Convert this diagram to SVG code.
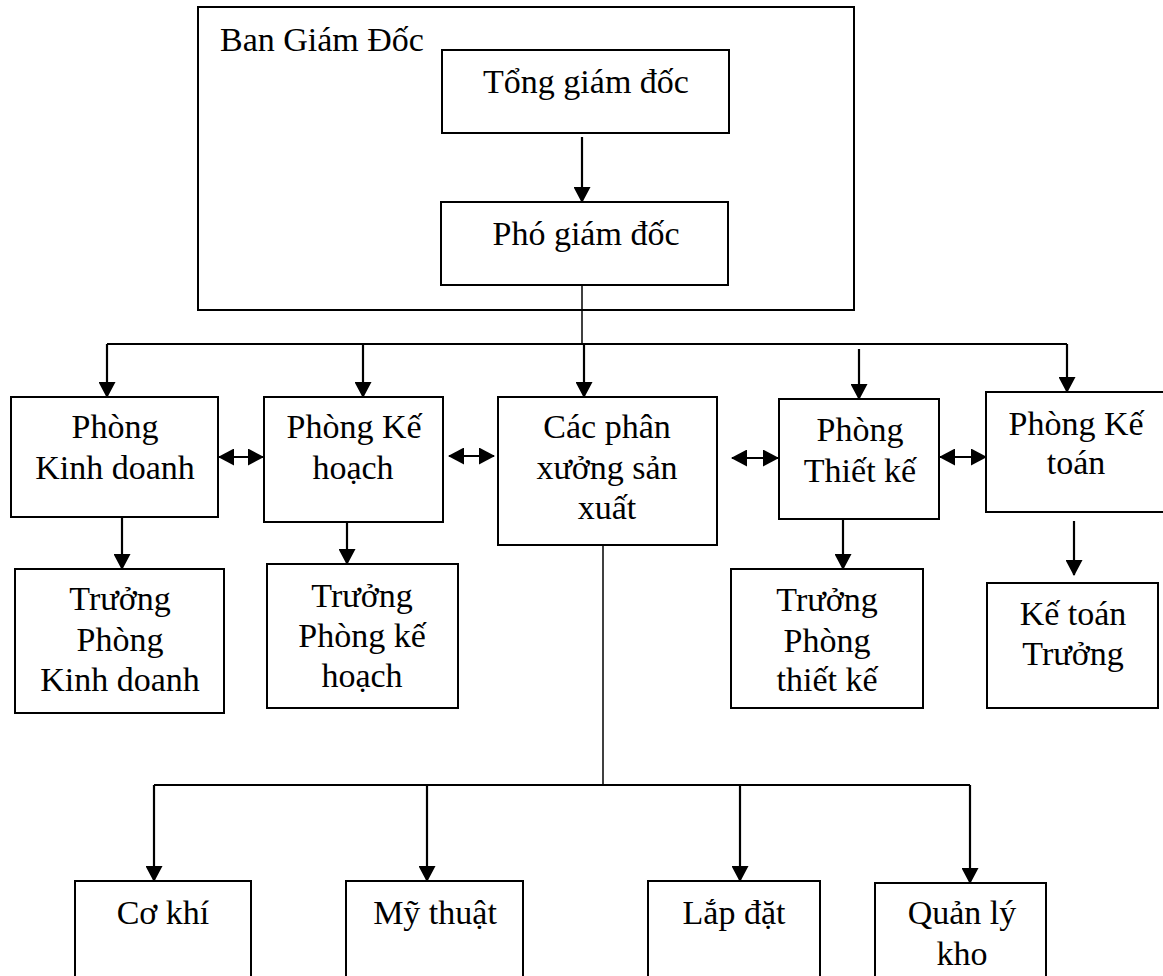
<svg xmlns="http://www.w3.org/2000/svg" width="1163" height="976" viewBox="0 0 1163 976">
  <style>
    .box { fill: #fff; stroke: #000; stroke-width: 2; }
    .lbl { font-family: "Liberation Serif", "Times New Roman", serif; font-size: 34px; fill: #000; text-anchor: middle; }
    .ln { fill: none; stroke: #000; stroke-width: 2.2; }
    .thin { fill: none; stroke: #000; stroke-width: 1.5; }
    .arr { marker-end: url(#head); }
    .bi { marker-start: url(#head); marker-end: url(#head); }
  </style>
  <defs>
    <marker id="head" markerUnits="userSpaceOnUse" markerWidth="16" markerHeight="17" refX="15" refY="8.5" orient="auto-start-reverse">
      <path d="M0,0 L16,8.5 L0,17 Z" fill="#000"/>
    </marker>
  </defs>

  <rect width="1163" height="976" fill="#fff"/>

  <!-- board of directors container -->
  <g id="ban-giam-doc">
    <rect class="box" x="198" y="7" width="656" height="303"/>
    <text class="lbl" x="220" y="51" style="text-anchor:start">Ban Giám Đốc</text>
  </g>
  <g id="tong-giam-doc">
    <rect class="box" x="442" y="50" width="287" height="83"/>
    <text class="lbl" x="586" y="93">Tổng giám đốc</text>
  </g>
  <g id="pho-giam-doc">
    <rect class="box" x="441" y="202" width="287" height="83"/>
    <text class="lbl" x="586" y="245">Phó giám đốc</text>
  </g>

  <!-- departments -->
  <g id="phong-kinh-doanh">
    <rect class="box" x="11" y="397" width="207" height="120"/>
    <text class="lbl" x="115" y="438">Phòng</text>
    <text class="lbl" x="115" y="479">Kinh doanh</text>
  </g>
  <g id="phong-ke-hoach">
    <rect class="box" x="264" y="397" width="179" height="125"/>
    <text class="lbl" x="354" y="438">Phòng Kế</text>
    <text class="lbl" x="353" y="479">hoạch</text>
  </g>
  <g id="phan-xuong">
    <rect class="box" x="498" y="397" width="219" height="148"/>
    <text class="lbl" x="607" y="438">Các phân</text>
    <text class="lbl" x="607" y="479">xưởng sản</text>
    <text class="lbl" x="607" y="519">xuất</text>
  </g>
  <g id="phong-thiet-ke">
    <rect class="box" x="779" y="399" width="160" height="120"/>
    <text class="lbl" x="860" y="441">Phòng</text>
    <text class="lbl" x="860" y="482">Thiết kế</text>
  </g>
  <g id="phong-ke-toan">
    <rect class="box" x="986" y="392" width="190" height="120"/>
    <text class="lbl" x="1076" y="435">Phòng Kế</text>
    <text class="lbl" x="1076" y="474">toán</text>
  </g>

  <!-- department heads -->
  <g id="truong-phong-kinh-doanh">
    <rect class="box" x="15" y="569" width="209" height="144"/>
    <text class="lbl" x="120" y="610">Trưởng</text>
    <text class="lbl" x="120" y="651">Phòng</text>
    <text class="lbl" x="120" y="691">Kinh doanh</text>
  </g>
  <g id="truong-phong-ke-hoach">
    <rect class="box" x="267" y="564" width="191" height="144"/>
    <text class="lbl" x="362" y="607">Trưởng</text>
    <text class="lbl" x="362" y="647">Phòng kế</text>
    <text class="lbl" x="362" y="687">hoạch</text>
  </g>
  <g id="truong-phong-thiet-ke">
    <rect class="box" x="731" y="569" width="192" height="139"/>
    <text class="lbl" x="827" y="611">Trưởng</text>
    <text class="lbl" x="827" y="652">Phòng</text>
    <text class="lbl" x="827" y="691">thiết kế</text>
  </g>
  <g id="ke-toan-truong">
    <rect class="box" x="987" y="583" width="171" height="125"/>
    <text class="lbl" x="1073" y="625">Kế toán</text>
    <text class="lbl" x="1073" y="665">Trưởng</text>
  </g>

  <!-- workshops -->
  <g id="co-khi">
    <rect class="box" x="75" y="881" width="176" height="120"/>
    <text class="lbl" x="163" y="924">Cơ khí</text>
  </g>
  <g id="my-thuat">
    <rect class="box" x="346" y="881" width="177" height="120"/>
    <text class="lbl" x="435" y="924">Mỹ thuật</text>
  </g>
  <g id="lap-dat">
    <rect class="box" x="648" y="881" width="172" height="120"/>
    <text class="lbl" x="734" y="924">Lắp đặt</text>
  </g>
  <g id="quan-ly-kho">
    <rect class="box" x="875" y="883" width="171" height="120"/>
    <text class="lbl" x="962" y="924">Quản lý</text>
    <text class="lbl" x="962" y="965">kho</text>
  </g>

  <!-- connectors -->
  <g id="connectors">
    <line class="ln arr" x1="582" y1="137" x2="582" y2="202"/>
    <line class="thin" x1="582" y1="285" x2="582" y2="344"/>
    <line class="ln" x1="107" y1="344" x2="1067" y2="344"/>
    <line class="ln arr" x1="107" y1="344" x2="107" y2="397"/>
    <line class="ln arr" x1="363" y1="344" x2="363" y2="397"/>
    <line class="ln arr" x1="584" y1="344" x2="584" y2="397"/>
    <line class="ln arr" x1="859" y1="349" x2="859" y2="399"/>
    <line class="ln arr" x1="1067" y1="344" x2="1067" y2="392"/>

    <line class="ln bi" x1="219" y1="457" x2="263" y2="457"/>
    <line class="ln bi" x1="449" y1="456" x2="494" y2="456"/>
    <line class="ln bi" x1="732" y1="458" x2="778" y2="458"/>
    <line class="ln bi" x1="940" y1="457" x2="986" y2="457"/>

    <line class="ln arr" x1="122" y1="517" x2="122" y2="569"/>
    <line class="ln arr" x1="347" y1="522" x2="347" y2="564"/>
    <line class="ln arr" x1="843" y1="519" x2="843" y2="569"/>
    <line class="ln arr" x1="1074" y1="521" x2="1074" y2="575"/>

    <line class="thin" x1="603" y1="545" x2="603" y2="785"/>
    <line class="ln" x1="154" y1="785" x2="970" y2="785"/>
    <line class="ln arr" x1="154" y1="785" x2="154" y2="881"/>
    <line class="ln arr" x1="427" y1="785" x2="427" y2="881"/>
    <line class="ln arr" x1="740" y1="785" x2="740" y2="881"/>
    <line class="ln arr" x1="970" y1="785" x2="970" y2="883"/>
  </g>
</svg>
